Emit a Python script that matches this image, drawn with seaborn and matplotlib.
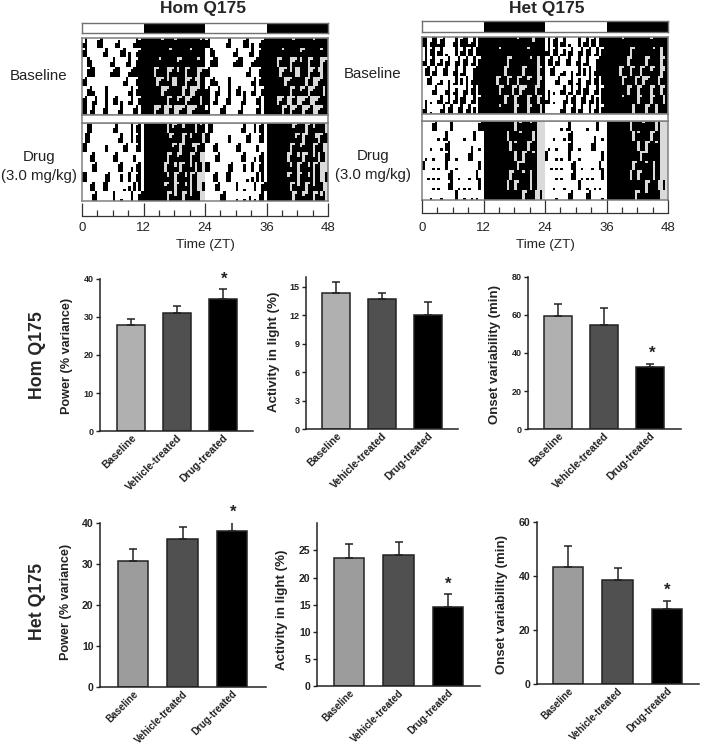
import numpy as np
import seaborn as sns
from matplotlib import pyplot as plt
from matplotlib.colors import ListedColormap

W, H = 709, 746

# Actogram days, half hour bins, ZT0-12 then ZT12-24. Digit is bar height 0-4
hom_baseline = [
    "240000340000023000002434 444444434444344444444434",
    "340000002400000340200234 444444444434444444344444",
    "004300000002400002400344 444444344444423444444344",
    "003440000002344000234444 444403444023424403444023",
    "340000000000000024000344 444440234240044402342044",
    "003420000400000000240344 444444402344444034002344",
    "340024000400340200240034 444444444034423402344404",
    "440240003400002400003404 444402340034002340023444",
    "240000340000024000003404 444444034023440234002344",
]
hom_drug = [
    "004400000000240000040340 444444444042344244440434",
    "044000000000002400040340 444444444423444034244440",
    "440000000300000034000340 444444444442340344420344",
    "000340000000340000003000 444444444034423444034400",
    "000034000000003400020340 444444440344240344240440",
    "440000000340000300400340 444444444244034424034000",
    "000340004400000010204040 444444442344034424044004",
    "000034000000400100040034 444444444034244034244400",
    "000000340000100102010340 444444444403442344034240",
]
het_baseline = [
    "440244134000240344124044 444444444444434444424444",
    "040340240100040240340444 444444344444444443444444",
    "240340130240024034014034 444444444034444444344044",
    "034024003400240140003444 444444440344444034444034",
    "003400120020140304024444 444440344034403442344024",
    "000024000240130024034044 444444034440340234440344",
    "020100240140240340024034 444444440344034440344034",
    "240100024034003402403044 444444344444034440344404",
    "000000240034024004024034 444444444404444034404444",
]
het_drug = [
    "000034000004000000000034 444444444444043444344000",
    "000000101400000010004000 444444444044443444404000",
    "000100010340000000020010 444444444404344440344000",
    "010010000340010000340000 444444444444044034434000",
    "400010100400010000000040 444444444444403344444000",
    "001010100034001000100410 444444444403444344044000",
    "000010100034001010100040 444444444044034444044000",
    "000100010000040010010100 444444444444444034440040",
    "000010000340000034000010 444444444440344344444000",
]
light_dark = [[0, 1, 0, 1]]
zt_major = [0, 12, 24, 36, 48]
zt_minor = [3, 6, 9, 15, 18, 21, 27, 30, 33, 39, 42, 45]

categories = ['Baseline', 'Vehicle-treated', 'Drug-treated']
colors_hom = ['#b0b0b0', '#505050', '#000000']
colors_het = ['#9c9c9c', '#505050', '#000000']

hom_power = [28.0, 31.0, 34.8]
hom_power_top = [29.4, 32.8, 37.3]
hom_light = [14.4, 13.7, 12.05]
hom_light_top = [15.5, 14.35, 13.4]
hom_onset = [59.3, 54.9, 32.5]
hom_onset_top = [65.8, 63.7, 34.4]
het_power = [30.7, 36.2, 38.0]
het_power_top = [33.7, 39.0, 40.2]
het_light = [23.6, 24.2, 14.5]
het_light_top = [26.2, 26.5, 17.0]
het_onset = [43.2, 38.6, 27.8]
het_onset_top = [51.0, 43.0, 30.9]


def px_axes(left, top, right, bottom):
    return fig.add_axes([left / W, 1 - bottom / H, (right - left) / W, (bottom - top) / H])


def actogram_matrix(days):
    # double plotted: each row shows a day and the one after it
    cleaned = [d.replace(' ', '') for d in days]
    levels = 4
    matrix = []
    for i in range(len(cleaned) - 1):
        row = cleaned[i] + cleaned[i + 1]
        for level in range(levels, 0, -1):
            line = []
            for j, ch in enumerate(row):
                if int(ch) >= level:
                    line.append(2)
                elif (j % 48) >= 24:
                    line.append(1)
                else:
                    line.append(0)
            matrix.append(line)
    return np.array(matrix)


def draw_section(days, box):
    ax = px_axes(*box)
    sns.heatmap(actogram_matrix(days), ax=ax, cbar=False, vmin=0, vmax=2,
                cmap=ListedColormap(['white', '#dadada', 'black']),
                xticklabels=False, yticklabels=False)
    for s in ax.spines.values():
        s.set_visible(True)
        s.set_color('#808080')
        s.set_linewidth(1.1)


def draw_actogram(title, title_x, left, right, bar_box, base_box, drug_box, axis_box, text_x, text_ys, pad):
    fig.text(title_x / W, 1 - 8 / H, title, fontsize=12.5, fontweight='bold', ha='center', va='center')

    ax = px_axes(left, bar_box[0], right, bar_box[1])
    sns.heatmap(light_dark, ax=ax, cbar=False, cmap=ListedColormap(['white', 'black']),
                xticklabels=False, yticklabels=False)
    for s in ax.spines.values():
        s.set_visible(True)
        s.set_color('#707070')
        s.set_linewidth(1.0)

    draw_section(days=title_days[title][0], box=(left, base_box[0], right, base_box[1]))
    draw_section(days=title_days[title][1], box=(left, drug_box[0], right, drug_box[1]))

    # gray frame of the white strip between both sections
    strip = px_axes(left, base_box[1], right, drug_box[0])
    strip.set_xticks([])
    strip.set_yticks([])
    for s in strip.spines.values():
        s.set_color('#808080')
        s.set_linewidth(1.1)

    ax = px_axes(left, axis_box[0], right, axis_box[1])
    ax.set_xlim(0, 48)
    ax.set_yticks([])
    ax.patch.set_alpha(0)
    ax.set_xticks(zt_major)
    ax.set_xticks(zt_minor, minor=True)
    ax.tick_params(axis='x', which='major', direction='in', length=9.4, width=0.9,
                   color='#333333', labelsize=9.5, pad=pad, labelcolor='#222222', bottom=True)
    ax.tick_params(axis='x', which='minor', direction='in', length=4.3, width=0.9,
                   color='#333333', bottom=True)
    sns.despine(ax=ax, left=True, right=True, top=True)
    ax.spines['bottom'].set_linewidth(0.9)
    ax.spines['bottom'].set_color('#333333')
    ax.set_xlabel('Time (ZT)', fontsize=9.7, labelpad=4.2, color='#222222')

    fig.text(text_x / W, 1 - text_ys[0] / H, 'Baseline', fontsize=10.8, ha='center', va='center', color='#222222')
    fig.text(text_x / W, 1 - text_ys[1] / H, 'Drug', fontsize=10.8, ha='center', va='center', color='#222222')
    fig.text(text_x / W, 1 - text_ys[2] / H, '(3.0 mg/kg)', fontsize=10.8, ha='center', va='center', color='#222222')


def draw_bars(values, tops, colors, ylim, yticks, ylabel, box, first, step, label_pos, star, tick_size, cat_size, cat_pad):
    left, top, right, bottom = box
    ax = px_axes(left, top, right, bottom)
    sns.barplot(x=categories, y=values, hue=categories, palette=colors, legend=False,
                width=0.61, saturation=1, errorbar=None, edgecolor='#222222', linewidth=1.1, ax=ax)
    for i in range(3):
        ax.errorbar(i, values[i], yerr=[[0], [tops[i] - values[i]]], color='#222222',
                    elinewidth=1.1, capsize=3, capthick=1.1, zorder=1)
    ax.set_xlim((left - first) / step, (right - first) / step)
    ax.set_ylim(0, ylim)
    ax.set_yticks(yticks)
    sns.despine(ax=ax)
    ax.spines['left'].set_linewidth(1.1)
    ax.spines['bottom'].set_linewidth(1.1)
    ax.spines['left'].set_color('#222222')
    ax.spines['bottom'].set_color('#222222')
    ax.tick_params(axis='y', length=2.6, width=1, pad=2, labelsize=tick_size, color='#222222')
    ax.tick_params(axis='x', length=0, pad=cat_pad)
    for t in ax.get_yticklabels():
        t.set_fontweight('bold')
        t.set_color('#222222')
    ax.set_xticks([0, 1, 2])
    ax.set_xticklabels(categories, rotation=45, ha='right', va='top', rotation_mode='anchor',
                       fontsize=cat_size, fontweight='bold', color='#222222')
    ax.set_ylabel('')
    fig.text(label_pos[0] / W, 1 - label_pos[1] / H, ylabel, rotation=90, ha='center', va='center',
             fontsize=label_pos[2], fontweight='bold', color='#222222')
    if star is not None:
        fig.text(star[0] / W, 1 - star[1] / H, '*', ha='center', va='center',
                 fontsize=12, fontweight='bold', color='#222222')


sns.set_theme(style='ticks')
plt.rcParams['font.family'] = ['Liberation Sans', 'DejaVu Sans']

fig = plt.figure(figsize=(W / 100, H / 100), dpi=100)
title_days = {'Hom Q175': (hom_baseline, hom_drug), 'Het Q175': (het_baseline, het_drug)}

draw_actogram('Hom Q175', 203, 82, 328, (23, 33), (38, 115), (123, 201), (203, 216), 39, (76, 157, 176), 4)
draw_actogram('Het Q175', 547, 422, 668, (21, 32), (37, 114), (121, 200), (200, 213), 373, (74, 156, 175), 6.2)

draw_bars(hom_power, hom_power_top, colors_hom, 40, [0, 10, 20, 30, 40], 'Power (% variance)',
          (100, 279, 253, 431), 131, 46, (67, 356, 9.1), (224, 279), 6.5, 7.6, 1)
draw_bars(hom_light, hom_light_top, colors_hom, 16.05, [0, 3, 6, 9, 12, 15], 'Activity in light (%)',
          (306, 277, 458, 429), 336, 46, (274, 352, 9.6), None, 6.5, 7.6, 1)
draw_bars(hom_onset, hom_onset_top, colors_hom, 80, [0, 20, 40, 60, 80], 'Onset variability (min)',
          (528, 277, 681, 429), 558, 46, (495, 355, 9.5), (652, 353), 6.5, 7.6, 1)
draw_bars(het_power, het_power_top, colors_het, 40, [0, 10, 20, 30, 40], 'Power (% variance)',
          (100, 523, 266, 687), 133, 49.5, (66, 602, 9.1), (233, 512), 7.6, 7.0, 1.2)
draw_bars(het_light, het_light_top, colors_het, 30.06, [0, 5, 10, 15, 20, 25], 'Activity in light (%)',
          (317, 523, 480, 686), 349, 49.5, (282, 610, 9.6), (448, 584), 7.6, 7.0, 1.2)
draw_bars(het_onset, het_onset_top, colors_het, 60, [0, 20, 40, 60], 'Onset variability (min)',
          (537, 522, 699, 684), 568, 49.5, (502, 605, 9.5), (667, 590), 7.6, 7.0, 1.2)

fig.text(38 / W, 1 - 355 / H, 'Hom Q175', rotation=90, ha='center', va='center', fontsize=12.8, fontweight='bold')
fig.text(38 / W, 1 - 602 / H, 'Het Q175', rotation=90, ha='center', va='center', fontsize=12.8, fontweight='bold')

fig.savefig('out.png', dpi=100)
